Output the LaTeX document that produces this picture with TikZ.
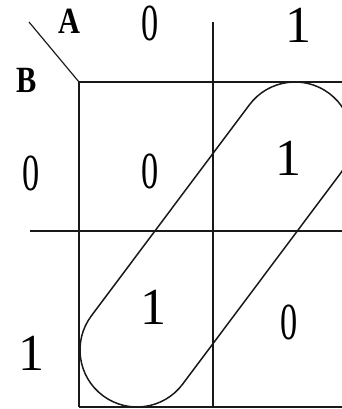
\documentclass[tikz,border=0pt]{standalone}
\usepackage{fontspec}
\setmainfont{Liberation Serif}
\usetikzlibrary{calc}
\newcommand{\kzero}{\scalebox{0.66}[1]{0}}
\tikzset{
  gridline/.style={line width=1.2pt, draw=black!90},
  loopline/.style={line width=1.5pt, draw=black!90},
  digit/.style={font=\fontsize{52}{52}\selectfont, inner sep=0pt, text=black},
  varlab/.style={font=\fontsize{37}{37}\selectfont\bfseries, inner sep=0pt, text=black}
}
\begin{document}
\begin{tikzpicture}[x=1pt,y=1pt]
\useasboundingbox (0,0) rectangle (342,409);
% grid
\draw[gridline] (79,327) -- (342,327);
\draw[gridline] (30,178) -- (342,178);
\draw[gridline] (79,2) -- (342,2);
\draw[gridline] (79,327) -- (79,2);
\draw[gridline] (213,387) -- (213,2);
\draw[gridline] (29,387) -- (79,327);
% variable labels
\node[varlab] (A) at (69.5,387.5) {\scalebox{0.82}[1]{A}};
\node[varlab] (B) at (26.5,329) {\scalebox{0.82}[1]{B}};
% column / row labels
\node[digit] (c0) at (150.5,386) {\kzero};
\node[digit] (c1) at (298,384) {1};
\node[digit] (r0) at (31,236) {\kzero};
\node[digit] (r1) at (31.5,55.5) {1};
% cells
\node[digit] (m00) at (150,238) {\kzero};
\node[digit] (m01) at (288,251) {1};
\node[digit] (m10) at (153,102) {1};
\node[digit] (m11) at (289,87) {\kzero};
% grouping loop
\coordinate (C1) at (137,59);
\coordinate (C2) at (295,270);
\draw[loopline] ($(C1)+(143.17:57pt)$) arc[start angle=143.17, end angle=323.17, radius=57pt]
  -- ($(C2)+(323.17:57pt)$) arc[start angle=-36.83, end angle=143.17, radius=57pt] -- cycle;
\end{tikzpicture}
\end{document}
